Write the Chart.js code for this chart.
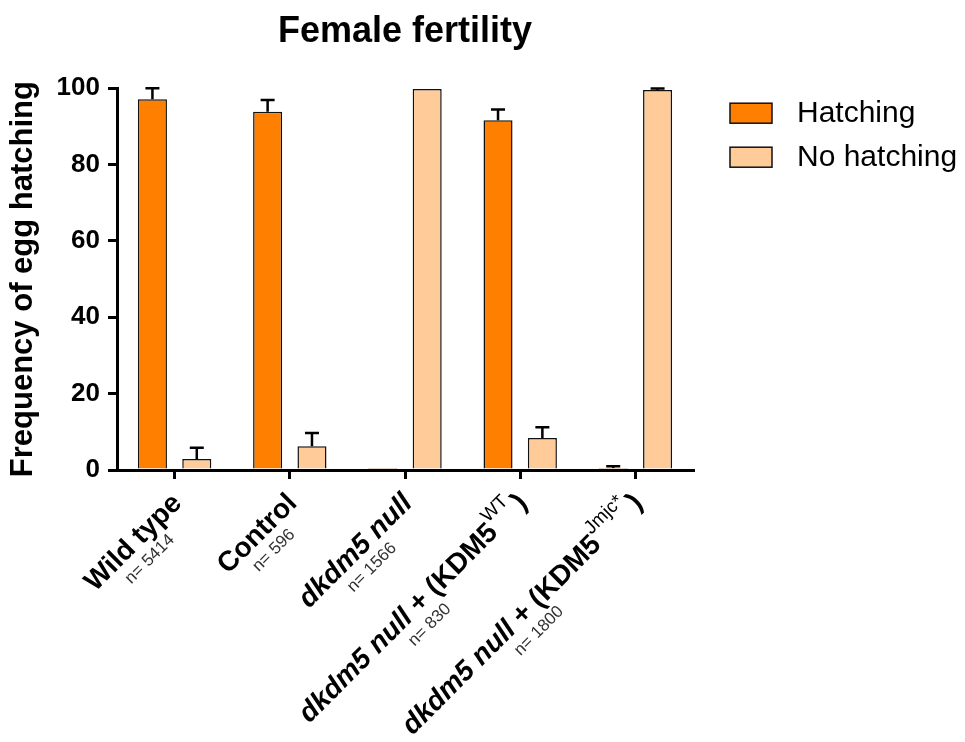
<!DOCTYPE html>
<html>
<head>
<meta charset="utf-8">
<title>Female fertility</title>
<script src="https://cdn.jsdelivr.net/npm/chart.js@4.4.1/dist/chart.umd.min.js"></script>
<style>
  body { margin: 0; background: #fff; }
  #wrap { width: 965px; height: 742px; }
</style>
</head>
<body>
<div id="wrap"><canvas id="fertilityChart" width="965" height="742"></canvas></div>
<script>
// categories and the pieces of their (formatted) labels
const categories = ["Wild type", "Control", "dkdm5 null", "dkdm5 null + (KDM5WT)", "dkdm5 null + (KDM5Jmjc*)"];
const genotype = ["Wild type", "Control", "dkdm5 null", "dkdm5 null", "dkdm5 null"];
const genotypeItalic = [false, false, true, true, true];
const rescueText = ["", "", "", " + (KDM5", " + (KDM5"];
const rescueSup = ["", "", "", "WT", "Jmjc*"];
const sampleSizes = ["n= 5414", "n= 596", "n= 1566", "n= 830", "n= 1800"];

// values (%)
const hatching = [97.1, 93.8, 0.2, 91.6, 0.5];
const hatchingErr = [2.9, 3.1, 0, 2.8, 0.5];
const noHatching = [2.9, 6.2, 99.8, 8.4, 99.5];
const noHatchingErr = [2.9, 3.5, 0, 2.8, 0.4];
const yTicks = [0, 20, 40, 60, 80, 100];

const FONT = "'Liberation Sans', Arial, Helvetica, sans-serif";
Chart.defaults.font.family = FONT;
Chart.defaults.color = "#000";

// draws the upward error bars (mean + SD) on top of every bar
const errorBars = {
  id: "errorBars",
  afterDatasetsDraw(chart) {
    const ctx = chart.ctx;
    const yScale = chart.scales.y;
    ctx.save();
    ctx.strokeStyle = "#000";
    ctx.lineWidth = 2.5;
    chart.data.datasets.forEach((ds, d) => {
      chart.getDatasetMeta(d).data.forEach((bar, i) => {
        const err = ds.errors[i];
        if (!err) return;
        const top = yScale.getPixelForValue(ds.data[i] + err);
        ctx.beginPath();
        ctx.moveTo(bar.x, bar.y);
        ctx.lineTo(bar.x, top);
        ctx.moveTo(bar.x - 7, top);
        ctx.lineTo(bar.x + 7, top);
        ctx.stroke();
      });
    });
    ctx.restore();
  }
};

// rotated category labels with italics, superscripts and the n= line
const rotatedLabels = {
  id: "rotatedLabels",
  afterDraw(chart) {
    const ctx = chart.ctx;
    const xScale = chart.scales.x;
    const base = chart.chartArea.bottom;
    categories.forEach((cat, i) => {
      const bold = "bold 28px " + FONT;
      const parts = [
        { text: genotype[i], font: (genotypeItalic[i] ? "italic " : "") + bold, dy: 0, gap: 0 },
        { text: rescueText[i], font: bold, dy: 0, gap: 0 },
        { text: rescueSup[i], font: "19px " + FONT, dy: -13, gap: 0 },
        { text: rescueSup[i] ? ")" : "", font: bold, dy: 0, gap: 3 }
      ];
      ctx.save();
      ctx.translate(xScale.getPixelForValue(i) + 3, base + 29);
      ctx.rotate(-Math.PI / 4);
      ctx.textBaseline = "middle";
      ctx.textAlign = "left";
      ctx.fillStyle = "#000";
      let total = 0;
      parts.forEach((p) => {
        ctx.font = p.font;
        p.w = p.text ? ctx.measureText(p.text).width + p.gap : 0;
        total += p.w;
      });
      let x = -total;
      parts.forEach((p) => {
        if (!p.text) return;
        ctx.font = p.font;
        ctx.fillText(p.text, x + p.gap, p.dy);
        x += p.w;
      });
      ctx.font = "17px " + FONT;
      ctx.fillStyle = "#333";
      ctx.textAlign = "center";
      ctx.fillText(sampleSizes[i], -total / 2, 23);
      ctx.restore();
    });
  }
};

// legend on the right, left-aligned boxes and labels
const sideLegend = {
  id: "sideLegend",
  afterDraw(chart) {
    const ctx = chart.ctx;
    const left = chart.chartArea.right + 37;
    const top = chart.chartArea.top + 15;
    ctx.save();
    chart.data.datasets.forEach((ds, d) => {
      const y = top + d * 44;
      ctx.fillStyle = ds.backgroundColor;
      ctx.fillRect(left, y, 42, 20);
      ctx.strokeStyle = ds.borderColor;
      ctx.lineWidth = 1.5;
      ctx.strokeRect(left, y, 42, 20);
      ctx.fillStyle = "#000";
      ctx.font = "30px " + FONT;
      ctx.textBaseline = "middle";
      ctx.textAlign = "left";
      ctx.fillText(ds.label, left + 67, y + 11);
    });
    ctx.restore();
  }
};

new Chart(document.getElementById("fertilityChart"), {
  type: "bar",
  data: {
    labels: categories,
    datasets: [
      {
        label: "Hatching",
        data: hatching,
        errors: hatchingErr,
        backgroundColor: "#FF7F00",
        borderColor: "#111",
        borderWidth: 1.5,
        barPercentage: 0.655,
        categoryPercentage: 0.77
      },
      {
        label: "No hatching",
        data: noHatching,
        errors: noHatchingErr,
        backgroundColor: "#FFCC99",
        borderColor: "#111",
        borderWidth: 1.5,
        barPercentage: 0.655,
        categoryPercentage: 0.77
      }
    ]
  },
  options: {
    responsive: false,
    animation: false,
    layout: { padding: { right: 272 } },
    plugins: {
      legend: { display: false },
      tooltip: { enabled: false },
      title: {
        display: true,
        text: "Female fertility",
        fullSize: false,
        color: "#000",
        font: { size: 36, weight: "bold" },
        padding: { top: 10, bottom: 35 }
      }
    },
    scales: {
      x: {
        offset: true,
        ticks: { display: false },
        grid: { offset: false, drawOnChartArea: false, drawTicks: true, tickLength: 9, lineWidth: 3, color: "#000" },
        border: { display: true, color: "#000", width: 3 },
        afterFit(scale) { scale.height = 272; }
      },
      y: {
        min: 0,
        max: 100,
        afterBuildTicks(scale) { scale.ticks = yTicks.map((v) => ({ value: v })); },
        ticks: { color: "#000", font: { size: 26, weight: "bold" }, padding: 8 },
        grid: { drawOnChartArea: false, drawTicks: true, tickLength: 9, lineWidth: 3, color: "#000" },
        border: { display: true, color: "#000", width: 3 },
        title: {
          display: true,
          text: "Frequency of egg hatching",
          color: "#000",
          font: { size: 31, weight: "bold" },
          padding: { top: 5, bottom: 0 }
        },
        afterFit(scale) { scale.width = 117; }
      }
    }
  },
  plugins: [errorBars, rotatedLabels, sideLegend]
});
</script>
</body>
</html>
